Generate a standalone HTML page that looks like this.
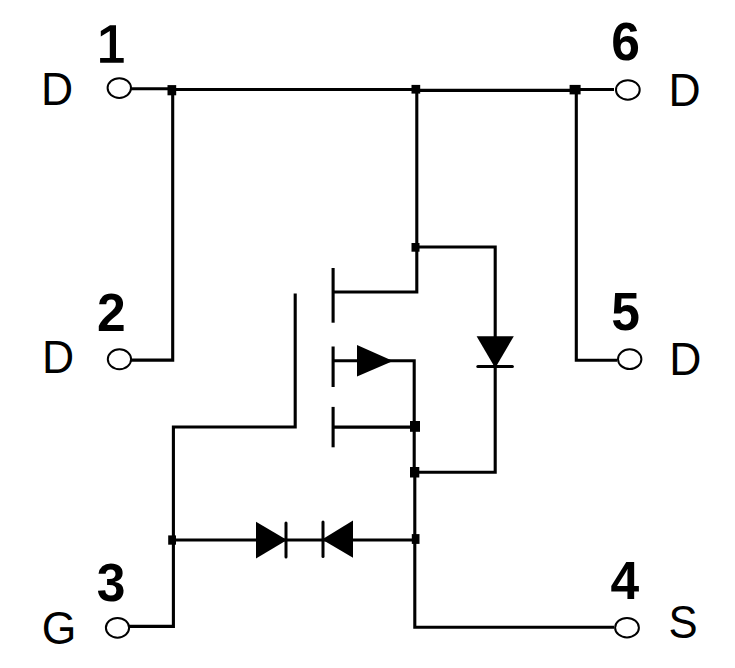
<!DOCTYPE html>
<html><head><meta charset="utf-8"><style>
html,body{margin:0;padding:0;background:#fff;width:735px;height:668px;overflow:hidden}
svg{display:block}
.l{font-family:"Liberation Sans",sans-serif;font-size:100px;fill:#000}
.n{font-family:"Liberation Sans",sans-serif;font-size:100px;font-weight:bold;fill:#000}
</style></head><body>
<svg width="735" height="668" viewBox="0 0 735 668">
<g fill="none" stroke="#000" stroke-width="3.1" stroke-linecap="butt" stroke-linejoin="miter">
<!-- top rail -->
<path d="M131 88.7 H172"/>
<path d="M172 89.5 H416"/>
<path d="M416 90.4 H576"/>
<path d="M576 89.5 H614"/>
<!-- left drain to pin2 -->
<path d="M172.7 89 V360.1 H131"/>
<!-- right drain to pin5 -->
<path d="M576.3 89.5 V360.3 H617"/>
<!-- drain trunk -->
<path d="M416.8 89.5 V292 H333"/>
<path d="M416.8 247 H495.2 V472.3 H414.5"/>
<!-- channel segments -->
<path d="M333.1 268 V322.7"/>
<path d="M333.1 346.5 V387"/>
<path d="M333.1 406.9 V447.3"/>
<!-- gate plate -->
<path d="M295.2 293.5 V427 H173.4 V626.4 H129"/>
<!-- source -->
<path d="M333 360.7 H414.2 V472"/>
<path d="M414.8 472 V627.3 H614"/>
<path d="M333 427.1 H414.5"/>
<!-- zener line -->
<path d="M173 540 H415"/>
</g>
<g fill="#000" stroke="none">
<!-- junctions -->
<rect x="167.5" y="85.1" width="8.7" height="10.2"/>
<rect x="411.5" y="84.9" width="8.7" height="8.7"/>
<rect x="569.6" y="84.9" width="11" height="9.5"/>
<rect x="411.5" y="243" width="8" height="8.7"/>
<rect x="410" y="421" width="10" height="10.8"/>
<rect x="410" y="467" width="9.3" height="10.5"/>
<rect x="411.8" y="534.1" width="7.7" height="9.8"/>
<rect x="168.2" y="535.4" width="7.8" height="9.3"/>
<!-- source arrow -->
<path d="M357 344.9 L393 360.9 L357 376.6 Z"/>
<!-- body diode -->
<path d="M476.6 336.2 L513.8 336.2 L495.2 368 Z"/>
<!-- zener diodes -->
<path d="M256 521.7 L287 540 L256 558.4 Z"/>
<path d="M353 520.6 L322 539.5 L353 557.8 Z"/>
</g>
<g fill="none" stroke="#000" stroke-width="3" stroke-linecap="round">
<path d="M477.8 366.6 H512.4"/>
<path d="M286 523 V557"/>
<path d="M323 522 V556.5"/>
</g>
<g fill="#fff" stroke="#000" stroke-width="2">
<ellipse cx="119.3" cy="88.1" rx="11.7" ry="9.9"/>
<ellipse cx="627.85" cy="89.95" rx="11.85" ry="9.75"/>
<ellipse cx="119.45" cy="359.25" rx="11.65" ry="9.95"/>
<ellipse cx="629.7" cy="359.15" rx="11.7" ry="9.85"/>
<ellipse cx="117.5" cy="627.8" rx="11.6" ry="9.9"/>
<ellipse cx="627" cy="627.65" rx="11.9" ry="9.75"/>
</g>
<!-- pin letters -->
<text class="l" transform="translate(41.01 104.57) scale(0.445 0.46)">D</text>
<text class="l" transform="translate(668.51 106.22) scale(0.445 0.46)">D</text>
<text class="l" transform="translate(41.96 372.92) scale(0.445 0.46)">D</text>
<text class="l" transform="translate(669.26 374.92) scale(0.445 0.46)">D</text>
<text class="l" transform="translate(41.81 643.87) scale(0.445 0.46)">G</text>
<text class="l" transform="translate(668.51 638.17) scale(0.437 0.46)">S</text>
<!-- pin numbers -->
<path d="M110 25.2 H116 V37.8 V58 H123.7 V62.7 H100.1 V58 H109.8 V31 L100.8 36.5 V31 Z" fill="#000"/>
<text class="n" transform="translate(96.96 331.25) scale(0.516 0.537)">2</text>
<text class="n" transform="translate(96.87 600.78) scale(0.516 0.537)">3</text>
<text class="n" transform="translate(610.54 599.48) scale(0.516 0.537)">4</text>
<text class="n" transform="translate(611.20 329.81) scale(0.516 0.537)">5</text>
<text class="n" transform="translate(611.20 60.03) scale(0.516 0.537)">6</text>
</svg>
</body></html>
